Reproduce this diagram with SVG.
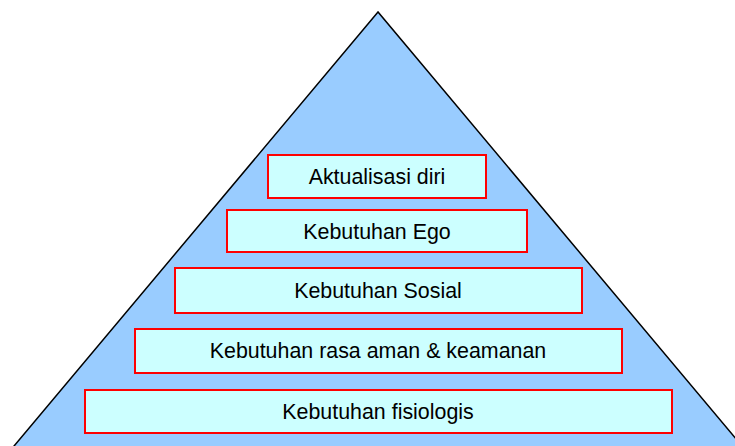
<svg xmlns="http://www.w3.org/2000/svg" width="735" height="446" viewBox="0 0 735 446">
<style>
.tri{fill:#99CCFF;stroke:#000000;stroke-width:1.5}
.box{fill:#CCFFFF;stroke:#FF0000;stroke-width:2}
.lbl{font-family:"Liberation Sans",Arial,sans-serif;font-size:21.4px;fill:#000000;text-anchor:middle}
</style>
<rect width="735" height="446" fill="#FFFFFF"/>
<polygon class="tri" points="378,12 2.3,460 753.7,460"/>
<g id="connectors"/>
<g id="aktualisasi">
<rect class="box" x="268" y="155" width="218" height="43"/>
<text class="lbl" x="377" y="184">Aktualisasi diri</text>
</g>
<g id="ego">
<rect class="box" x="227" y="210" width="300" height="42"/>
<text class="lbl" x="377" y="239">Kebutuhan Ego</text>
</g>
<g id="sosial">
<rect class="box" x="175" y="268" width="407" height="45"/>
<text class="lbl" x="378" y="297.5">Kebutuhan Sosial</text>
</g>
<g id="aman">
<rect class="box" x="135" y="329" width="487" height="44"/>
<text class="lbl" x="378" y="358">Kebutuhan rasa aman &amp; keamanan</text>
</g>
<g id="fisiologis">
<rect class="box" x="85" y="390" width="587" height="43"/>
<text class="lbl" x="378" y="419">Kebutuhan fisiologis</text>
</g>
</svg>
